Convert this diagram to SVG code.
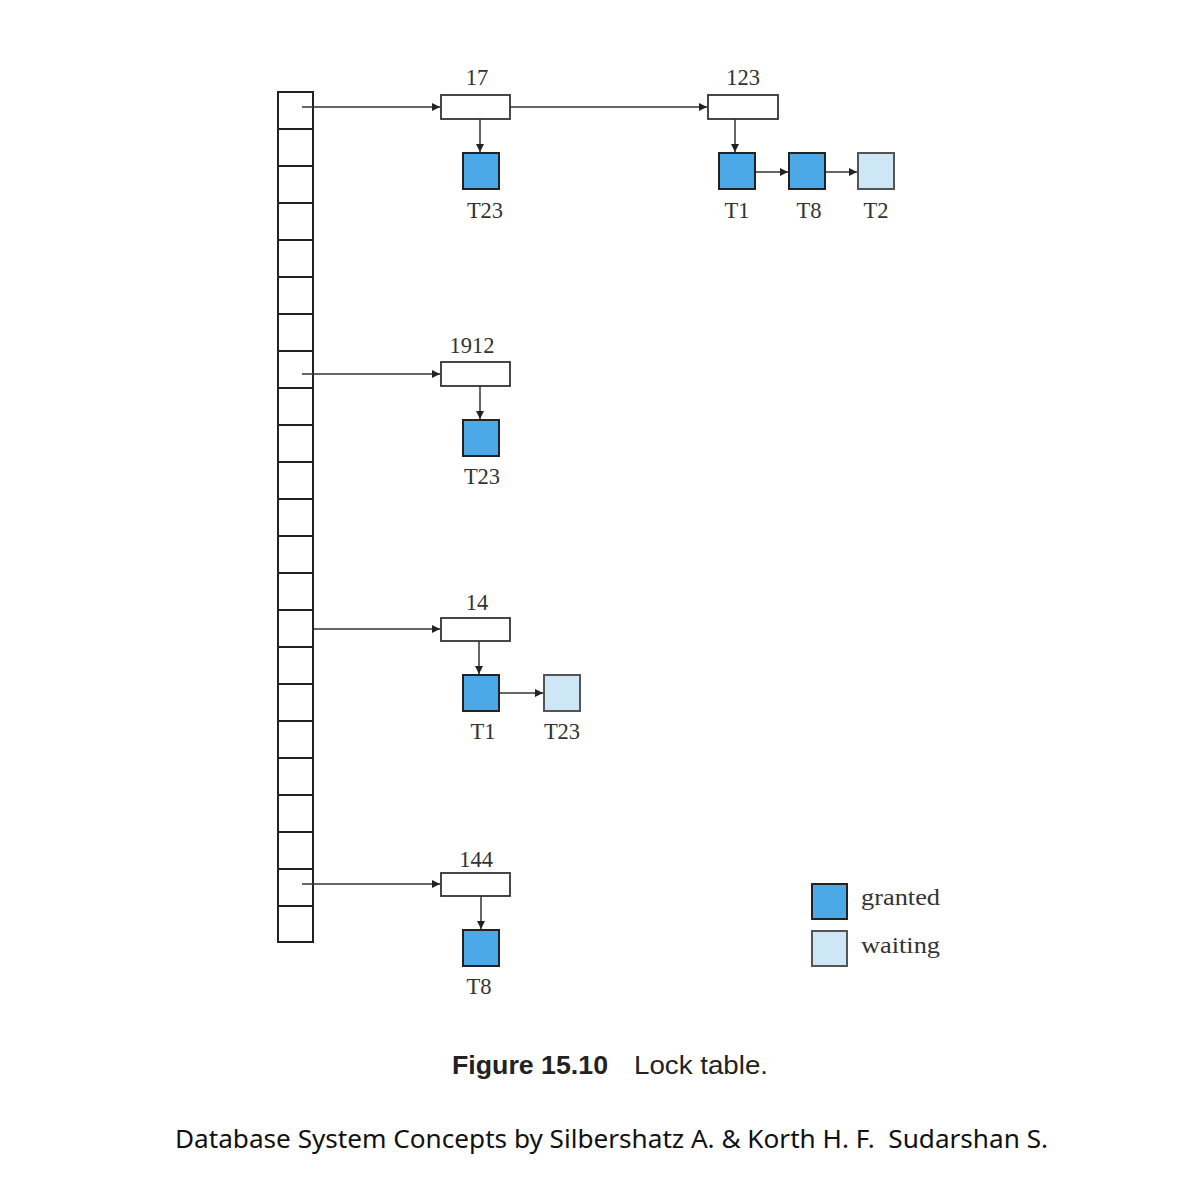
<svg xmlns="http://www.w3.org/2000/svg" width="1198" height="1186" viewBox="0 0 1198 1186">
<style>
.cell{fill:#fff;stroke:#222;stroke-width:2}
.lk{fill:#fff;stroke:#333;stroke-width:1.8}
.g{fill:#4aa9e6;stroke:#222;stroke-width:2}
.w{fill:#cde7f6;stroke:#555;stroke-width:2}
.t{font-family:"Liberation Serif",serif;font-size:22.5px;fill:#333;text-anchor:middle}
.lg{font-family:"Liberation Serif",serif;font-size:24px;fill:#333}
.c{stroke:#333;stroke-width:1.5;fill:none;marker-end:url(#ah)}
</style>
<defs>
<marker id="ah" viewBox="0 0 10 10" refX="10" refY="5" markerWidth="8" markerHeight="8" markerUnits="userSpaceOnUse" orient="auto"><path d="M0,0 L10,5 L0,10 z" fill="#222"/></marker>
</defs>
<rect width="1198" height="1186" fill="#fff"/>
<g id="table">
<rect class="cell" x="278" y="92" width="35" height="850"/>
<path stroke="#222" stroke-width="2" d="M278,129H313M278,166H313M278,203H313M278,240H313M278,277H313M278,314H313M278,351H313M278,388H313M278,425H313M278,462H313M278,499H313M278,536H313M278,573H313M278,610H313M278,647H313M278,684H313M278,721H313M278,758H313M278,795H313M278,832H313M278,869H313M278,906H313"/>
</g>
<g id="connectors">
<path class="c" d="M302,107H440"/>
<path class="c" d="M510,107H707"/>
<path class="c" d="M480,119V152"/>
<path class="c" d="M735,119V152"/>
<path class="c" d="M755,172H788"/>
<path class="c" d="M825,172H857"/>
<path class="c" d="M302,374H440"/>
<path class="c" d="M480,386V419"/>
<path class="c" d="M313,629H440"/>
<path class="c" d="M479,641V674"/>
<path class="c" d="M499,693H543"/>
<path class="c" d="M302,884H440"/>
<path class="c" d="M481,896V929"/>
</g>
<g id="lock17"><rect class="lk" x="441" y="95" width="69" height="24"/><text class="t" x="477" y="85">17</text></g>
<g id="lock123"><rect class="lk" x="708" y="95" width="70" height="24"/><text class="t" x="743" y="85">123</text></g>
<g id="lock1912"><rect class="lk" x="441" y="362" width="69" height="24"/><text class="t" x="472" y="353">1912</text></g>
<g id="lock14"><rect class="lk" x="441" y="618" width="69" height="23"/><text class="t" x="477" y="610">14</text></g>
<g id="lock144"><rect class="lk" x="441" y="873" width="69" height="23"/><text class="t" x="476" y="867">144</text></g>
<g id="t23a"><rect class="g" x="463" y="153" width="36" height="36"/><text class="t" x="485" y="218">T23</text></g>
<g id="t1a"><rect class="g" x="719" y="153" width="36" height="36"/><text class="t" x="737" y="218">T1</text></g>
<g id="t8a"><rect class="g" x="789" y="153" width="36" height="36"/><text class="t" x="809" y="218">T8</text></g>
<g id="t2a"><rect class="w" x="858" y="153" width="36" height="36"/><text class="t" x="876" y="218">T2</text></g>
<g id="t23b"><rect class="g" x="463" y="420" width="36" height="36"/><text class="t" x="482" y="484">T23</text></g>
<g id="t1b"><rect class="g" x="463" y="675" width="36" height="36"/><text class="t" x="483" y="739">T1</text></g>
<g id="t23c"><rect class="w" x="544" y="675" width="36" height="36"/><text class="t" x="562" y="739">T23</text></g>
<g id="t8b"><rect class="g" x="463" y="930" width="36" height="36"/><text class="t" x="479" y="994">T8</text></g>
<g id="legend">
<rect class="g" x="812" y="884" width="35" height="35"/>
<rect class="w" x="812" y="931" width="35" height="35"/>
<text class="lg" x="861" y="905" textLength="79" lengthAdjust="spacingAndGlyphs">granted</text>
<text class="lg" x="861" y="953" textLength="79" lengthAdjust="spacingAndGlyphs">waiting</text>
</g>
<g id="caption">
<text x="452" y="1074" font-family="Liberation Sans,Arial,sans-serif" font-size="26" font-weight="bold" fill="#222" textLength="156" lengthAdjust="spacingAndGlyphs">Figure 15.10</text>
<text x="634" y="1074" font-family="Liberation Sans,Arial,sans-serif" font-size="26" fill="#222" textLength="134" lengthAdjust="spacingAndGlyphs">Lock table.</text>
<text x="175" y="1148" font-family="Noto Sans,sans-serif" font-size="26" fill="#111" xml:space="preserve" style="white-space:pre" textLength="873" lengthAdjust="spacingAndGlyphs">Database System Concepts by Silbershatz A. &amp; Korth H. F.  Sudarshan S.</text>
</g>
</svg>
